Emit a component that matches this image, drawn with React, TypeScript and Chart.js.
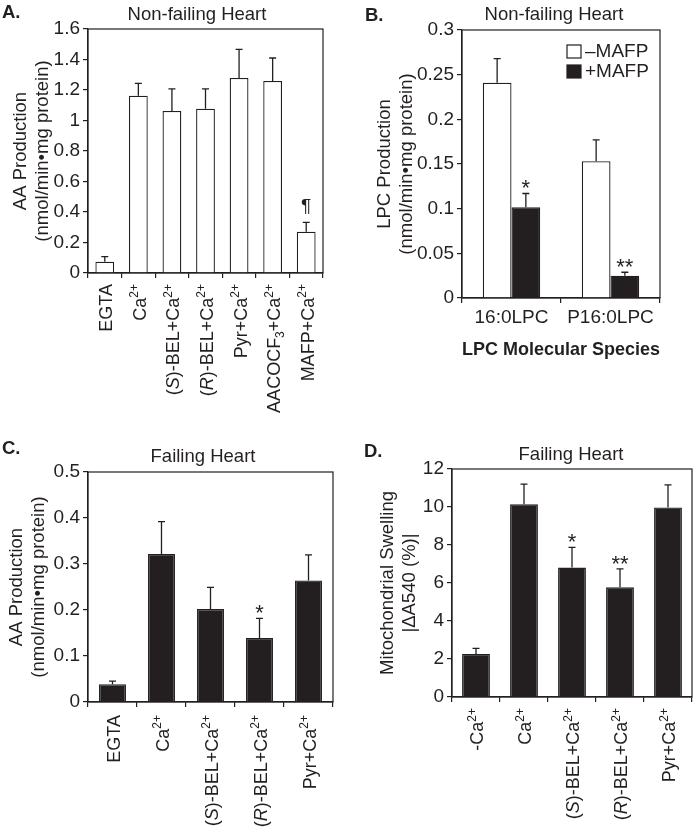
import React, { useEffect, useRef } from 'react';
import { Chart, registerables } from 'chart.js';

Chart.register(...registerables);

const FONT = '"Liberation Sans", Arial, Helvetica, sans-serif';
const INK = '#231f20';
const WHITE = '#ffffff';

// ---------- Panel A: Non-failing heart, AA production ----------
const catsA = ['EGTA', 'Ca^{2+}', '(*S*)-BEL+Ca^{2+}', '(*R*)-BEL+Ca^{2+}', 'Pyr+Ca^{2+}', 'AACOCF_{3}+Ca^{2+}', 'MAFP+Ca^{2+}'];
const valsA = [0.074, 1.163, 1.062, 1.077, 1.279, 1.259, 0.271];
const semA = [0.033, 0.081, 0.145, 0.13, 0.188, 0.151, 0.061];
const marksA = ['', '', '', '', '', '', '¶'];

// ---------- Panel B: Non-failing heart, LPC production ----------
const catsB = ['16:0LPC', 'P16:0LPC'];
const minusMAFP = [0.241, 0.153];
const minusMAFPsem = [0.027, 0.024];
const plusMAFP = [0.1015, 0.025];
const plusMAFPsem = [0.0155, 0.0038];
const marksBplus = ['*', '**'];

// ---------- Panel C: Failing heart, AA production ----------
const catsC = ['EGTA', 'Ca^{2+}', '(*S*)-BEL+Ca^{2+}', '(*R*)-BEL+Ca^{2+}', 'Pyr+Ca^{2+}'];
const valsC = [0.0385, 0.322, 0.202, 0.139, 0.264];
const semC = [0.007, 0.07, 0.047, 0.043, 0.056];
const marksC = ['', '', '', '*', ''];

// ---------- Panel D: Failing heart, mitochondrial swelling ----------
const catsD = ['-Ca^{2+}', 'Ca^{2+}', '(*S*)-BEL+Ca^{2+}', '(*R*)-BEL+Ca^{2+}', 'Pyr+Ca^{2+}'];
const valsD = [2.26, 10.14, 6.81, 5.77, 9.98];
const semD = [0.3, 1.06, 1.07, 0.97, 1.18];
const marksD = ['', '', '*', '**', ''];

type Seg = { t: string; sup?: boolean; sub?: boolean; it?: boolean };

function parseLabel(s: string): Seg[] {
  const out: Seg[] = [];
  let it = false;
  let buf = '';
  let i = 0;
  const flush = () => {
    if (buf) out.push({ t: buf, it });
    buf = '';
  };
  while (i < s.length) {
    const c = s[i];
    if (c === '*') {
      flush();
      it = !it;
      i++;
      continue;
    }
    if ((c === '^' || c === '_') && s[i + 1] === '{') {
      flush();
      const end = s.indexOf('}', i);
      out.push({ t: s.slice(i + 2, end), sup: c === '^', sub: c === '_', it });
      i = end + 1;
      continue;
    }
    buf += c;
    i++;
  }
  flush();
  return out;
}

function drawRotatedLabel(ctx: CanvasRenderingContext2D, label: string, x: number, y: number, size: number) {
  const segs = parseLabel(label);
  const fontOf = (s: Seg) => `${s.it ? 'italic ' : ''}${s.sup || s.sub ? Math.round(size * 0.68) : size}px ${FONT}`;
  let total = 0;
  const widths = segs.map((s) => {
    ctx.font = fontOf(s);
    const w = ctx.measureText(s.t).width;
    total += w;
    return w;
  });
  ctx.save();
  ctx.translate(x, y);
  ctx.rotate(-Math.PI / 2);
  ctx.textAlign = 'left';
  ctx.textBaseline = 'alphabetic';
  ctx.fillStyle = INK;
  const base = size * 0.36;
  let cx = -total;
  segs.forEach((s, k) => {
    ctx.font = fontOf(s);
    let dy = base;
    if (s.sup) dy -= size * 0.42;
    if (s.sub) dy += size * 0.22;
    ctx.fillText(s.t, cx, dy);
    cx += widths[k];
  });
  ctx.restore();
}

interface DS {
  label: string;
  data: number[];
  sem: number[];
  marks: string[];
  color: string;
}

interface PanelSpec {
  labels: string[];
  datasets: DS[];
  yMax: number;
  yStep: number;
  yTitle: string[];
  pad: { left: number; top: number; right: number; bottom: number };
  yWidth: number;
  xHeight: number;
  barPct: number;
  catPct: number;
  richGap?: number;
  xTitle?: string;
  letter: { text: string; x: number; y: number };
  title: { text: string; x: number; y: number };
  legend?: { x: number; y: number; dy: number };
}

function makeDecor(p: PanelSpec) {
  return {
    id: 'decor',
    afterDatasetsDraw(chart: any) {
      const ctx: CanvasRenderingContext2D = chart.ctx;
      const yS = chart.scales.y;
      ctx.save();
      ctx.strokeStyle = INK;
      ctx.lineWidth = 1.3;
      p.datasets.forEach((ds, d) => {
        const meta = chart.getDatasetMeta(d);
        meta.data.forEach((el: any, i: number) => {
          const top = yS.getPixelForValue(ds.data[i] + ds.sem[i]);
          ctx.beginPath();
          ctx.moveTo(el.x, el.y);
          ctx.lineTo(el.x, top);
          ctx.moveTo(el.x - 3.5, top);
          ctx.lineTo(el.x + 3.5, top);
          ctx.stroke();
          const m = ds.marks[i];
          if (m) {
            ctx.fillStyle = INK;
            ctx.textAlign = 'center';
            ctx.textBaseline = 'alphabetic';
            if (m.includes('*')) {
              ctx.font = `22px ${FONT}`;
              ctx.fillText(m, el.x, top + 2);
            } else {
              ctx.font = `19px ${FONT}`;
              ctx.fillText(m, el.x, top - 10);
            }
          }
        });
      });
      ctx.restore();
    },
    afterDraw(chart: any) {
      const ctx: CanvasRenderingContext2D = chart.ctx;
      const a = chart.chartArea;
      ctx.save();
      ctx.strokeStyle = INK;
      ctx.lineWidth = 1.2;
      ctx.strokeRect(a.left, a.top, a.right - a.left, a.bottom - a.top);
      ctx.fillStyle = INK;
      ctx.textBaseline = 'middle';
      ctx.textAlign = 'left';
      ctx.font = `bold 18.5px ${FONT}`;
      ctx.fillText(p.letter.text, p.letter.x, p.letter.y);
      ctx.textAlign = 'center';
      ctx.font = `18.5px ${FONT}`;
      ctx.fillText(p.title.text, p.title.x, p.title.y);
      if (p.richGap !== undefined) {
        const xS = chart.scales.x;
        p.labels.forEach((lab, i) => {
          drawRotatedLabel(ctx, lab, xS.getPixelForValue(i) + 1, a.bottom + p.richGap!, 18);
        });
      }
      if (p.legend) {
        const lg = p.legend;
        p.datasets.forEach((ds, d) => {
          const y = lg.y + d * lg.dy;
          ctx.fillStyle = ds.color;
          ctx.fillRect(lg.x, y, 14, 13);
          ctx.strokeStyle = INK;
          ctx.lineWidth = 1.2;
          ctx.strokeRect(lg.x, y, 14, 13);
          ctx.fillStyle = INK;
          ctx.textAlign = 'left';
          ctx.textBaseline = 'middle';
          ctx.font = `19px ${FONT}`;
          ctx.fillText(ds.label, lg.x + 18, y + 6.5);
        });
      }
      ctx.restore();
    },
  };
}

function buildConfig(p: PanelSpec): any {
  const rich = p.richGap !== undefined;
  return {
    type: 'bar',
    data: {
      labels: p.labels,
      datasets: p.datasets.map((ds) => ({
        label: ds.label,
        data: ds.data,
        backgroundColor: ds.color,
        borderColor: INK,
        borderWidth: 1.3,
        barPercentage: p.barPct,
        categoryPercentage: p.catPct,
      })),
    },
    options: {
      responsive: false,
      animation: false,
      devicePixelRatio: 1,
      events: [],
      layout: { padding: p.pad },
      plugins: { legend: { display: false }, tooltip: { enabled: false }, title: { display: false } },
      scales: {
        x: {
          type: 'category',
          offset: true,
          grid: { display: true, drawOnChartArea: false, drawTicks: true, tickLength: 5, color: INK, lineWidth: 1.2, offset: true },
          border: { display: true, color: INK, width: 1.2 },
          ticks: { display: !rich, color: INK, font: { size: 19 }, maxRotation: 0, minRotation: 0, padding: 3, autoSkip: false },
          title: p.xTitle
            ? { display: true, text: p.xTitle, color: INK, font: { size: 18.5, weight: 'bold', lineHeight: 1.2 }, padding: 0 }
            : { display: false },
          afterFit: (s: any) => {
            s.height = p.xHeight;
          },
        },
        y: {
          min: 0,
          max: p.yMax,
          ticks: {
            stepSize: p.yStep,
            color: INK,
            font: { size: 19 },
            padding: 3,
            callback: (v: any) => String(Math.round(Number(v) * 1000) / 1000),
          },
          grid: { display: true, drawOnChartArea: false, drawTicks: true, tickLength: 5, color: INK, lineWidth: 1.2 },
          border: { display: true, color: INK, width: 1.2 },
          title: { display: true, text: p.yTitle, color: INK, font: { size: 18.5, lineHeight: 1.2 }, padding: 0 },
          afterFit: (s: any) => {
            s.width = p.yWidth;
          },
        },
      },
    },
    plugins: [makeDecor(p)],
  };
}

const W = 694;
const H = 829;

const panels: PanelSpec[] = [
  {
    labels: catsA,
    datasets: [{ label: 'AA', data: valsA, sem: semA, marks: marksA, color: WHITE }],
    yMax: 1.6,
    yStep: 0.2,
    yTitle: ['AA Production', '(nmol/min•mg protein)'],
    pad: { left: 10, top: 29, right: W - 323, bottom: 436 },
    yWidth: 78,
    xHeight: 120,
    barPct: 0.56,
    catPct: 1,
    richGap: 11,
    letter: { text: 'A.', x: 2, y: 13 },
    title: { text: 'Non-failing Heart', x: 197, y: 15 },
  },
  {
    labels: catsB,
    datasets: [
      { label: '–MAFP', data: minusMAFP, sem: minusMAFPsem, marks: ['', ''], color: WHITE },
      { label: '+MAFP', data: plusMAFP, sem: plusMAFPsem, marks: marksBplus, color: INK },
    ],
    yMax: 0.3,
    yStep: 0.05,
    yTitle: ['LPC Production', '(nmol/min•mg protein)'],
    pad: { left: 374, top: 30, right: W - 660, bottom: 468 },
    yWidth: 88,
    xHeight: 63,
    barPct: 1,
    catPct: 0.58,
    xTitle: 'LPC Molecular Species',
    letter: { text: 'B.', x: 365, y: 16 },
    title: { text: 'Non-failing Heart', x: 554, y: 15 },
    legend: { x: 567, y: 45, dy: 20 },
  },
  {
    labels: catsC,
    datasets: [{ label: 'AA', data: valsC, sem: semC, marks: marksC, color: INK }],
    yMax: 0.5,
    yStep: 0.1,
    yTitle: ['AA Production', '(nmol/min•mg protein)'],
    pad: { left: 6, top: 472, right: W - 333, bottom: 27 },
    yWidth: 82,
    xHeight: 100,
    barPct: 0.55,
    catPct: 1,
    richGap: 13,
    letter: { text: 'C.', x: 2, y: 449 },
    title: { text: 'Failing Heart', x: 203, y: 457 },
  },
  {
    labels: catsD,
    datasets: [{ label: 'Swelling', data: valsD, sem: semD, marks: marksD, color: INK }],
    yMax: 12,
    yStep: 2,
    yTitle: ['Mitochondrial Swelling', '|ΔA540 (%)|'],
    pad: { left: 377, top: 469, right: 2, bottom: 32 },
    yWidth: 75,
    xHeight: 100,
    barPct: 0.58,
    catPct: 1,
    richGap: 11,
    letter: { text: 'D.', x: 364, y: 452 },
    title: { text: 'Failing Heart', x: 571, y: 455 },
  },
];

export default function App() {
  const refs = useRef<(HTMLCanvasElement | null)[]>([]);
  useEffect(() => {
    Chart.defaults.font.family = FONT;
    Chart.defaults.color = INK;
    const charts = panels.map((p, i) => new Chart(refs.current[i] as HTMLCanvasElement, buildConfig(p)));
    return () => charts.forEach((c) => c.destroy());
  }, []);
  return (
    <div style={{ position: 'absolute', left: 0, top: 0, width: W, height: H, background: '#fff' }}>
      {panels.map((_, i) => (
        <canvas
          key={i}
          ref={(el) => {
            refs.current[i] = el;
          }}
          width={W}
          height={H}
          style={{ position: 'absolute', left: 0, top: 0, width: W, height: H }}
        />
      ))}
    </div>
  );
}
